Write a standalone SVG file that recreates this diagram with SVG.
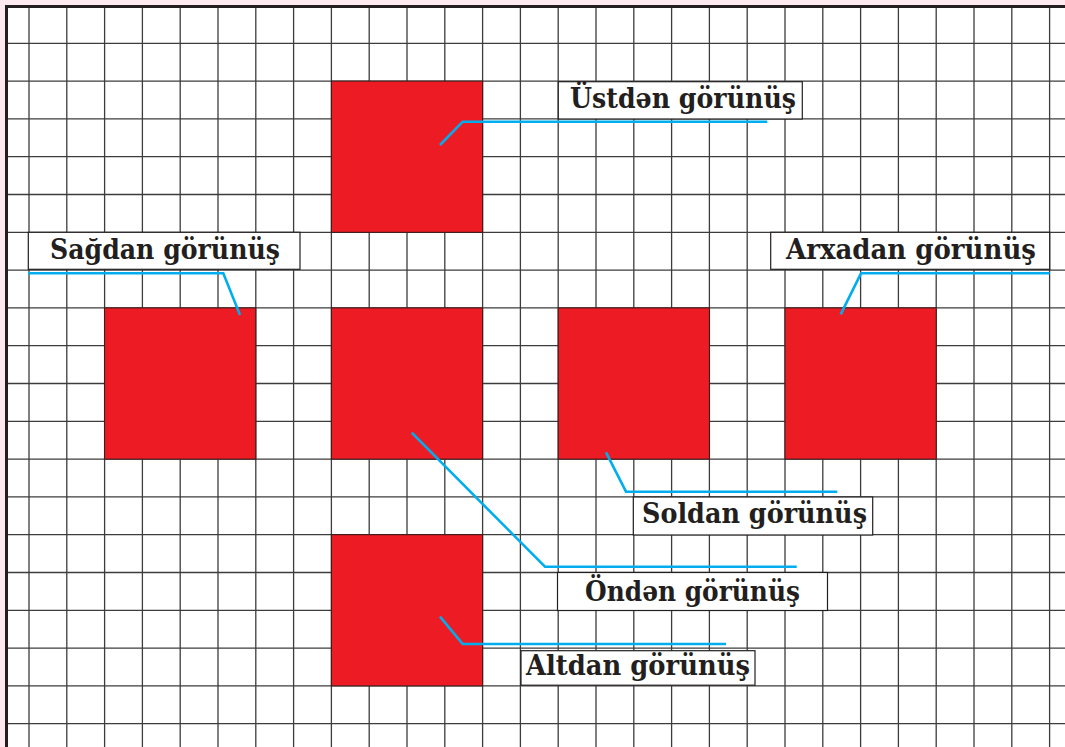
<svg xmlns="http://www.w3.org/2000/svg" width="1065" height="747" viewBox="0 0 1065 747">
<style>
.grid line{stroke:#3c3c3c;stroke-width:1.3}
.sq{fill:#ed1c24;stroke:#3a1a1a;stroke-width:1}
.box{fill:#ffffff;stroke:#231f20;stroke-width:1.2}
.lbl{font-family:"DejaVu Serif","Liberation Serif",serif;font-weight:bold;font-size:27px;fill:#231f20}
.conn polyline{fill:none;stroke:#00aeef;stroke-width:2.6;stroke-linejoin:miter}
</style>
<rect x="0" y="0" width="1065" height="747" fill="#fdeaf0"/>
<rect x="6.5" y="6.5" width="1058.5" height="740.5" fill="#ffffff"/>
<g class="grid">
<line x1="29" y1="7" x2="29" y2="747"/>
<line x1="66.8" y1="7" x2="66.8" y2="747"/>
<line x1="104.6" y1="7" x2="104.6" y2="747"/>
<line x1="142.4" y1="7" x2="142.4" y2="747"/>
<line x1="180.2" y1="7" x2="180.2" y2="747"/>
<line x1="218" y1="7" x2="218" y2="747"/>
<line x1="255.8" y1="7" x2="255.8" y2="747"/>
<line x1="293.6" y1="7" x2="293.6" y2="747"/>
<line x1="331.4" y1="7" x2="331.4" y2="747"/>
<line x1="369.2" y1="7" x2="369.2" y2="747"/>
<line x1="407" y1="7" x2="407" y2="747"/>
<line x1="444.8" y1="7" x2="444.8" y2="747"/>
<line x1="482.6" y1="7" x2="482.6" y2="747"/>
<line x1="520.4" y1="7" x2="520.4" y2="747"/>
<line x1="558.2" y1="7" x2="558.2" y2="747"/>
<line x1="596" y1="7" x2="596" y2="747"/>
<line x1="633.8" y1="7" x2="633.8" y2="747"/>
<line x1="671.6" y1="7" x2="671.6" y2="747"/>
<line x1="709.4" y1="7" x2="709.4" y2="747"/>
<line x1="747.2" y1="7" x2="747.2" y2="747"/>
<line x1="785" y1="7" x2="785" y2="747"/>
<line x1="822.8" y1="7" x2="822.8" y2="747"/>
<line x1="860.6" y1="7" x2="860.6" y2="747"/>
<line x1="898.4" y1="7" x2="898.4" y2="747"/>
<line x1="936.2" y1="7" x2="936.2" y2="747"/>
<line x1="974" y1="7" x2="974" y2="747"/>
<line x1="1011.8" y1="7" x2="1011.8" y2="747"/>
<line x1="1049.6" y1="7" x2="1049.6" y2="747"/>
<line x1="7" y1="43.3" x2="1065" y2="43.3"/>
<line x1="7" y1="81.1" x2="1065" y2="81.1"/>
<line x1="7" y1="118.9" x2="1065" y2="118.9"/>
<line x1="7" y1="156.7" x2="1065" y2="156.7"/>
<line x1="7" y1="194.5" x2="1065" y2="194.5"/>
<line x1="7" y1="232.3" x2="1065" y2="232.3"/>
<line x1="7" y1="270.1" x2="1065" y2="270.1"/>
<line x1="7" y1="307.9" x2="1065" y2="307.9"/>
<line x1="7" y1="345.7" x2="1065" y2="345.7"/>
<line x1="7" y1="383.5" x2="1065" y2="383.5"/>
<line x1="7" y1="421.3" x2="1065" y2="421.3"/>
<line x1="7" y1="459.1" x2="1065" y2="459.1"/>
<line x1="7" y1="496.9" x2="1065" y2="496.9"/>
<line x1="7" y1="534.7" x2="1065" y2="534.7"/>
<line x1="7" y1="572.5" x2="1065" y2="572.5"/>
<line x1="7" y1="610.3" x2="1065" y2="610.3"/>
<line x1="7" y1="648.1" x2="1065" y2="648.1"/>
<line x1="7" y1="685.9" x2="1065" y2="685.9"/>
<line x1="7" y1="723.7" x2="1065" y2="723.7"/>
</g>
<line x1="5" y1="6.5" x2="1065" y2="6.5" stroke="#231f20" stroke-width="3"/>
<line x1="6.5" y1="5" x2="6.5" y2="747" stroke="#231f20" stroke-width="3"/>
<g id="top-view"><rect class="sq" x="331.4" y="81.1" width="151.2" height="151.2"/></g>
<g id="right-view"><rect class="sq" x="104.6" y="307.9" width="151.2" height="151.2"/></g>
<g id="front-view"><rect class="sq" x="331.4" y="307.9" width="151.2" height="151.2"/></g>
<g id="left-view"><rect class="sq" x="558.2" y="307.9" width="151.2" height="151.2"/></g>
<g id="back-view"><rect class="sq" x="785" y="307.9" width="151.2" height="151.2"/></g>
<g id="bottom-view"><rect class="sq" x="331.4" y="534.7" width="151.2" height="151.2"/></g>
<g id="label-ustden"><rect class="box" x="558.3" y="81.7" width="244" height="37.3"/><text class="lbl" x="570" y="108" textLength="226" lengthAdjust="spacingAndGlyphs">Üstdən görünüş</text></g>
<g id="label-sagdan"><rect class="box" x="28.3" y="232.3" width="271.7" height="37"/><text class="lbl" x="50" y="258.5" textLength="230" lengthAdjust="spacingAndGlyphs">Sağdan görünüş</text></g>
<g id="label-arxadan"><rect class="box" x="770.7" y="232.3" width="279" height="37"/><text class="lbl" x="786" y="258.5" textLength="250" lengthAdjust="spacingAndGlyphs">Arxadan görünüş</text></g>
<g id="label-soldan"><rect class="box" x="633.3" y="497" width="239.4" height="38"/><text class="lbl" x="642" y="522.5" textLength="225" lengthAdjust="spacingAndGlyphs">Soldan görünüş</text></g>
<g id="label-onden"><rect class="box" x="557.5" y="572.5" width="270" height="38"/><text class="lbl" x="585" y="601" textLength="215" lengthAdjust="spacingAndGlyphs">Öndən görünüş</text></g>
<g id="label-altdan"><rect class="box" x="521" y="650.7" width="234" height="34.5"/><text class="lbl" x="526" y="674.5" textLength="224" lengthAdjust="spacingAndGlyphs">Altdan görünüş</text></g>
<g class="conn" id="connectors">
<polyline points="440,145 462.7,121.7 767.3,121.7"/>
<polyline points="28,273.3 223.3,273.3 240,315"/>
<polyline points="840.7,314.3 861,273.3 1049.7,273.3"/>
<polyline points="606,452.3 626,491.7 837.3,491.7"/>
<polyline points="411.7,432.7 545,566.7 796.7,566.7"/>
<polyline points="440,616.7 462.7,644 726,644"/>
</g>
</svg>
